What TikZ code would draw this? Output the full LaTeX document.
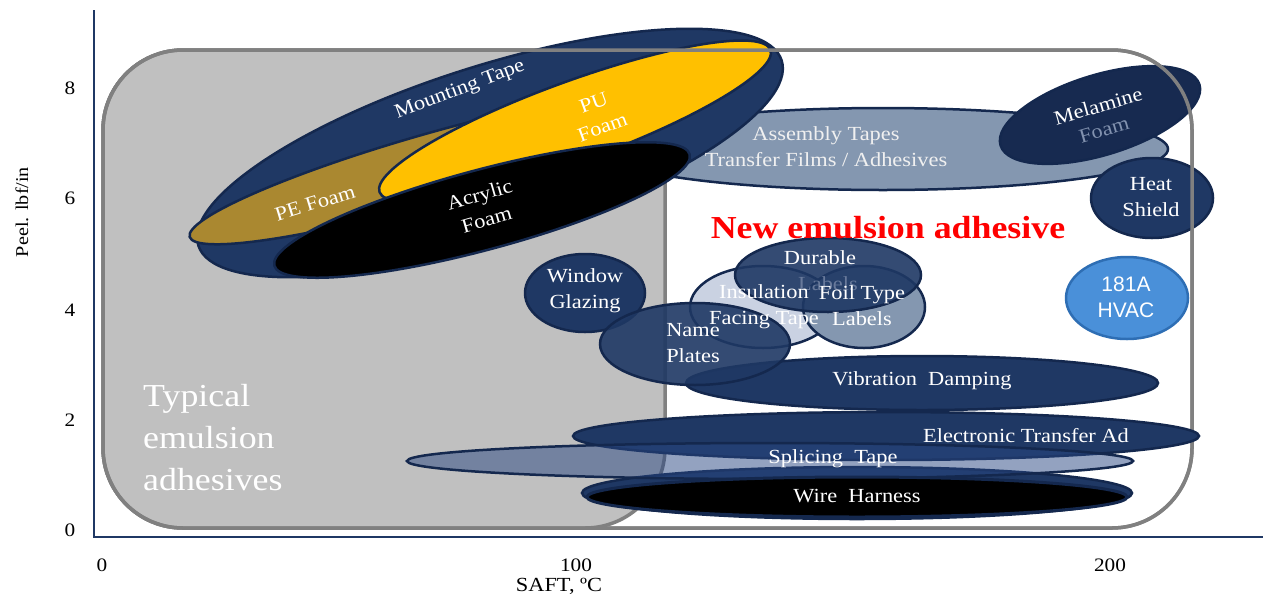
\documentclass[tikz,border=0pt]{standalone}
\usepackage{fontspec}
\setmainfont{Liberation Serif}[FakeStretch=1.12]
\newfontfamily\hvacfont{Liberation Sans}
\usetikzlibrary{shapes.geometric}
\definecolor{navy}{RGB}{31,56,100}
\definecolor{navyedge}{RGB}{20,40,78}
\definecolor{darknavy}{RGB}{23,42,80}
\definecolor{puyellow}{RGB}{255,192,0}
\definecolor{pegold}{RGB}{170,136,48}
\definecolor{slate}{RGB}{132,151,176}
\definecolor{paleblue}{RGB}{202,210,226}
\definecolor{splice}{RGB}{40,70,130}
\definecolor{hvacblue}{RGB}{74,144,217}
\definecolor{hvacedge}{RGB}{46,110,180}
\definecolor{boxgray}{RGB}{192,192,192}
\definecolor{boxedge}{RGB}{128,128,128}
\definecolor{newred}{RGB}{255,0,0}
\definecolor{hidtext}{RGB}{130,146,175}
\definecolor{hidtextdark}{RGB}{105,122,155}
\newcommand\lblsize{\fontsize{20}{26}\selectfont}
\tikzset{
  blob/.style={ellipse, draw=navyedge, line width=2.5pt, fill=navy, inner sep=0pt},
  sz/.style 2 args={minimum width=#1pt, minimum height=#2pt},
  lbl/.style={text=white, font=\lblsize, align=center, inner sep=0pt},
  ticklbl/.style={font=\fontsize{19}{22}\selectfont, inner sep=0pt},
  framebox/.style={draw=boxedge, line width=3.5pt, rounded corners=80pt},
  axisline/.style={draw=navy, line width=1.5pt},
}
\begin{document}
\begin{tikzpicture}[x=1pt,y=-1pt]
\useasboundingbox (0,0) rectangle (1263,600);
% frames
\draw[framebox, fill=white] (103,50) rectangle (1192,528);
\draw[framebox, fill=boxgray] (103,50) rectangle (665,528);
\node[anchor=west, text=white, font=\fontsize{32}{42}\selectfont, align=left, inner sep=0pt] (typ) at (143,438) {Typical\\emulsion\\adhesives};
% axes
\coordinate (ytop) at (94,10);
\coordinate (orig) at (94,537);
\coordinate (xend) at (1263,537);
\draw[axisline] (ytop) -- (orig) -- (xend);
\node[ticklbl] (y8) at (70,88) {8};
\node[ticklbl] (y6) at (70,198) {6};
\node[ticklbl] (y4) at (70,310) {4};
\node[ticklbl] (y2) at (70,420) {2};
\node[ticklbl] (y0) at (70,530) {0};
\node[ticklbl] (x0) at (102,565) {0};
\node[ticklbl] (x100) at (576,565) {100};
\node[ticklbl] (x200) at (1110,565) {200};
\node[ticklbl, font=\fontsize{20}{22}\selectfont] (xlab) at (559,586) {SAFT, ºC};
\node[ticklbl, font=\fontsize{18}{22}\selectfont, rotate=90] (ylab) at (22,212) {Peel. lbf/in};
% ellipses
\node[blob, fill=slate, sz={570}{82}] (assembly) at (883,149) {};
\node[blob, sz={612}{174}, rotate=17.6] (mount) at (490,153) {};
\node[blob, fill=pegold, sz={500}{68}, rotate=16] (pe) at (430,168) {};
\node[blob, fill=puyellow, sz={416}{80}, rotate=20] (pu) at (575,121) {};
\node[blob, fill=black, sz={430}{80}, rotate=15] (acrylic) at (482,210) {};
\node[blob, fill=darknavy, sz={208}{80}, rotate=17] (melamine) at (1100,115) {};
\node[blob, sz={122}{80}] (heat) at (1152,198) {};
\node[blob, fill=hvacblue, draw=hvacedge, sz={122}{82}] (hvac) at (1127,298) {};
\node[blob, sz={120}{78}] (window) at (585,293) {};
\node[blob, fill=paleblue, sz={146}{82}] (insul) at (763,307) {};
\node[blob, fill=slate, sz={122}{82}] (foil) at (864,307) {};
\node[blob, fill opacity=0.9, sz={186}{74}] (durable) at (828,275) {};
\node[blob, sz={472}{54}] (vib) at (922,383) {};
\node[blob, fill opacity=0.9, sz={190}{82}] (name) at (695,344) {};
% outer frame outline lies over the upper ellipses
\draw[framebox] (103,50) rectangle (1192,528);
\node[blob, sz={550}{52}] (wireback) at (857,493) {};
\node[blob, sz={626}{48}] (elec) at (886,436) {};
\node[blob, fill=splice, fill opacity=0.5, sz={726}{36}] (splice) at (770,461) {};
\node[blob, fill=black, line width=3pt, sz={540}{40}] (wire) at (857,497) {};
% labels
\node[lbl, rotate=21] (tmount) at (460,90) {Mounting Tape};
\node[lbl, rotate=20] (tpu) at (598,115) {PU\\Foam};
\node[lbl, rotate=17] (tpe) at (315,203) {PE Foam};
\node[lbl, rotate=16] (tacr) at (483,207) {Acrylic\\Foam};
\node[lbl, text=white!94!black] (tasm) at (826,147) {Assembly Tapes\\Transfer Films / Adhesives};
\node[lbl, rotate=16] (tmel1) at (1098,106) {Melamine};
\node[lbl, rotate=16, text=hidtext] (tmel2) at (1104,130) {Foam};
\node[lbl] (theat) at (1151,197) {Heat\\Shield};
\node[lbl, font=\hvacfont\fontsize{21}{26}\selectfont] (thvac) at (1126,297) {181A\\HVAC};
\node[text=newred, font=\bfseries\fontsize{32}{36}\selectfont, inner sep=0pt] (tnew) at (888,228) {New emulsion adhesive};
\node[lbl] (twin) at (585,291) {Window\\Glazing};
\node[lbl] (tdur) at (820,258) {Durable};
\node[lbl, text=hidtextdark] (tdur2) at (828,284) {Labels};
\node[lbl] (tins) at (764,307) {Insulation\\Facing Tape};
\node[lbl] (tfoil) at (862,306) {Foil Type\\Labels};
\node[lbl] (tname) at (693,343) {Name\\Plates};
\node[lbl] (tvib) at (922,381) {Vibration~~Damping};
\node[lbl] (telec) at (1026,436) {Electronic Transfer Ad};
\node[lbl] (tspl) at (833,459) {Splicing~~Tape};
\node[lbl] (twire) at (857,496) {Wire~~Harness};
\end{tikzpicture}
\end{document}
